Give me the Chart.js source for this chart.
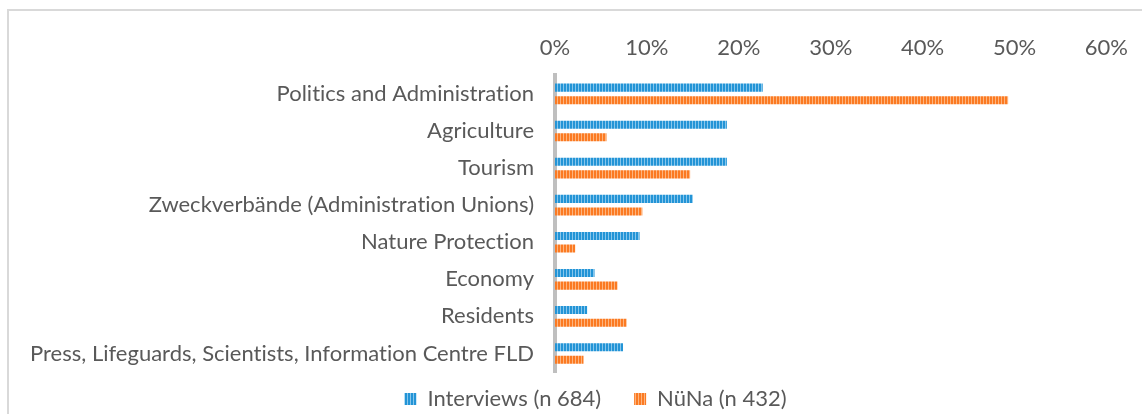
<!DOCTYPE html>
<html>
<head>
<meta charset="utf-8">
<script src="https://cdn.jsdelivr.net/npm/chart.js@4.4.1/dist/chart.umd.min.js"></script>
<style>
  html, body { margin: 0; padding: 0; background: #ffffff; overflow: hidden; }
  #frame { position: absolute; left: 7px; top: 9px; width: 1300px; height: 600px; border: 2px solid #d9d9d9; box-sizing: border-box; }
  #wrap { position: absolute; left: 0; top: 0; width: 1142px; height: 414px; }
</style>
</head>
<body>
<div id="frame"></div>
<div id="wrap"><canvas id="c" width="1142" height="414"></canvas></div>
<script>
const categories = [
  "Politics and Administration",
  "Agriculture",
  "Tourism",
  "Zweckverbände (Administration Unions)",
  "Nature Protection",
  "Economy",
  "Residents",
  "Press, Lifeguards, Scientists, Information Centre FLD"
];
const seriesNames = ["Interviews (n 684)", "NüNa (n 432)"];
const interviews = [22.6, 18.7, 18.7, 15.0, 9.2, 4.3, 3.5, 7.4];
const nuna = [49.3, 5.6, 14.7, 9.5, 2.2, 6.8, 7.8, 3.1];
const xTicks = [0, 10, 20, 30, 40, 50, 60];

function stripes(dark, light) {
  const c = document.createElement('canvas');
  c.width = 3; c.height = 4;
  const g = c.getContext('2d');
  g.fillStyle = dark; g.fillRect(0, 0, 3, 4);
  g.fillStyle = light; g.fillRect(2, 0, 1, 4);
  return g.createPattern(c, 'repeat');
}
const ctx = document.getElementById('c').getContext('2d');
const bluePat = stripes('#2394d6', '#86c6ec');
const orangePat = stripes('#fb7a22', '#fdb47e');

const FONT = "Lato, 'Open Sans', sans-serif";
const GREY = '#595959';

const noLigatures = {
  id: 'noLigatures',
  beforeUpdate(chart) { chart.ctx.textRendering = 'optimizeSpeed'; },
  beforeDraw(chart) { chart.ctx.textRendering = 'optimizeSpeed'; }
};
const legendShift = {
  id: 'legendShift',
  afterLayout(chart) { chart.legend.left += 27; chart.legend.right += 27; }
};

new Chart(ctx, {
  type: 'bar',
  data: {
    labels: categories,
    datasets: [
      { label: seriesNames[0], data: interviews, backgroundColor: bluePat, borderWidth: 0,
        categoryPercentage: 0.68, barPercentage: 0.64 },
      { label: seriesNames[1], data: nuna, backgroundColor: orangePat, borderWidth: 0,
        categoryPercentage: 0.68, barPercentage: 0.64 }
    ]
  },
  plugins: [noLigatures, legendShift],
  options: {
    indexAxis: 'y',
    responsive: false,
    animation: false,
    devicePixelRatio: 1,
    layout: { padding: { top: 21, left: 25, right: 30, bottom: -6 } },
    scales: {
      x: {
        position: 'top',
        min: 0, max: 60,
        afterBuildTicks: (s) => { s.ticks = xTicks.map(v => ({ value: v })); },
        grid: { display: false, drawTicks: false },
        border: { display: false },
        ticks: { padding: 14, color: GREY, font: { family: FONT, size: 22 }, callback: (v) => v + '%' }
      },
      y: {
        afterFit: (s) => { s.width = 530; },
        grid: { display: false, drawTicks: false },
        border: { display: true, color: '#bfbfbf', width: 4 },
        ticks: { padding: 21, color: GREY, font: { family: FONT, size: 22 } }
      }
    },
    plugins: {
      legend: {
        position: 'bottom',
        labels: {
          boxWidth: 12, boxHeight: 12, padding: 16, color: GREY, font: { family: FONT, size: 22 },
          generateLabels: (chart) => {
            const items = Chart.defaults.plugins.legend.labels.generateLabels(chart);
            items[0].text = items[0].text + '   ';
            return items;
          }
        }
      },
      tooltip: { enabled: false }
    }
  }
});
</script>
</body>
</html>
